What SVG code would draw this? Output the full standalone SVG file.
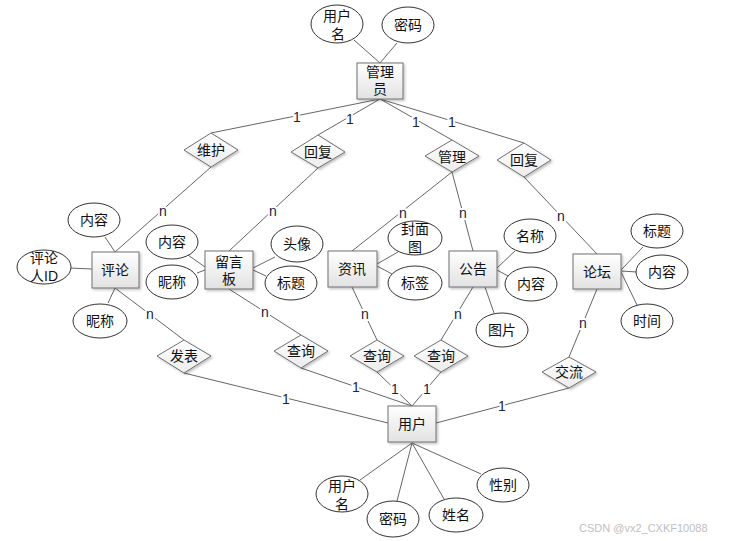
<svg xmlns="http://www.w3.org/2000/svg" width="731" height="541" viewBox="0 0 731 541">
<defs>
<linearGradient id="eg" x1="0" y1="0" x2="0" y2="1"><stop offset="0" stop-color="#ffffff"/><stop offset="1" stop-color="#e2e2e2"/></linearGradient>
<linearGradient id="dg" x1="0" y1="0" x2="0" y2="1"><stop offset="0" stop-color="#ffffff"/><stop offset="1" stop-color="#ececec"/></linearGradient>
<filter id="sh" x="-20%" y="-20%" width="140%" height="140%"><feDropShadow dx="1.5" dy="1.5" stdDeviation="1" flood-color="#000" flood-opacity="0.25"/></filter>
</defs>
<style>
text{font-family:"Liberation Sans","Noto Sans CJK SC",sans-serif;font-size:14px;fill:#111;text-anchor:middle;dominant-baseline:central}
.ent{fill:url(#eg);stroke:#707070;stroke-width:1;filter:url(#sh)}
.rel{fill:url(#dg);stroke:#707070;stroke-width:1;filter:url(#sh)}
.att{fill:#fff;stroke:#333;stroke-width:1}
.ln{stroke:#666;stroke-width:1;fill:none}
.lb{font-size:14px;fill:#1a2440;stroke:#fff;stroke-width:4;paint-order:stroke;stroke-linejoin:round}
.wm{font-size:11px;fill:#c0c0c0;text-anchor:start}
</style>
<rect width="731" height="541" fill="#fff"/>
<g id="connectors">
<path class="ln" d="M380,63L354,40M380,63L397,43"/>
<path class="ln" d="M380,99L211,133M380,99L318,135M380,99L452,140M380,99L524,143"/>
<path class="ln" d="M211,167L115,252M318,168L229,251M452,172L352,251M452,172L473,251M524,177L597,254"/>
<path class="ln" d="M115,288L184,340M229,289L301,335M352,287L377,340M473,287L441,340M597,289L569,357"/>
<path class="ln" d="M184,373L388,423M301,368L412,406M377,372L412,406M441,372L412,406M569,388L436,423"/>
<path class="ln" d="M115,252L105,237M70,268L92,269M115,288L108,303"/>
<path class="ln" d="M188,255L205,267M197,273L205,270M253,268L275,257M253,270L266,276"/>
<path class="ln" d="M377,264L398,252M377,266L392,274"/>
<path class="ln" d="M497,268L515,251M497,270L508,276M485,287L494,313"/>
<path class="ln" d="M621,270L643,247M621,271L637,272M621,272L637,305"/>
<path class="ln" d="M412,443L360,480M412,443L397,501M412,443L444,499M412,443L481,474"/>
</g>
<g id="labels">
<text class="lb" x="297" y="117">1</text>
<text class="lb" x="350" y="119">1</text>
<text class="lb" x="416" y="122">1</text>
<text class="lb" x="452" y="122">1</text>
<text class="lb" x="163" y="211">n</text>
<text class="lb" x="273" y="211">n</text>
<text class="lb" x="403" y="213">n</text>
<text class="lb" x="463" y="213">n</text>
<text class="lb" x="561" y="216">n</text>
<text class="lb" x="150" y="314">n</text>
<text class="lb" x="265" y="312">n</text>
<text class="lb" x="365" y="314">n</text>
<text class="lb" x="458" y="314">n</text>
<text class="lb" x="583" y="323">n</text>
<text class="lb" x="286" y="399">1</text>
<text class="lb" x="356" y="387">1</text>
<text class="lb" x="395" y="389">1</text>
<text class="lb" x="427" y="389">1</text>
<text class="lb" x="502" y="406">1</text>
</g>
<g id="admin"><rect class="ent" x="357" y="63" width="46" height="36"/><text x="380" y="72">管理</text><text x="380" y="89">员</text></g>
<g id="admin-username"><ellipse class="att" cx="337" cy="24" rx="26" ry="19"/><text x="337" y="16">用户</text><text x="338" y="34">名</text></g>
<g id="admin-password"><ellipse class="att" cx="408" cy="25" rx="26" ry="18"/><text x="408" y="25">密码</text></g>
<g id="rel-weihu"><polygon class="rel" points="184,150 211,133 238,150 211,167"/><text x="211" y="150">维护</text></g>
<g id="rel-huifu1"><polygon class="rel" points="291,152 318,135 345,152 318,168"/><text x="318" y="152">回复</text></g>
<g id="rel-guanli"><polygon class="rel" points="425,156 452,140 479,156 452,172"/><text x="452" y="157">管理</text></g>
<g id="rel-huifu2"><polygon class="rel" points="497,160 524,143 551,160 524,177"/><text x="524" y="160">回复</text></g>
<g id="comment"><rect class="ent" x="92" y="252" width="47" height="36"/><text x="115" y="270">评论</text></g>
<g id="comment-content"><ellipse class="att" cx="94" cy="220" rx="26" ry="17"/><text x="94" y="220">内容</text></g>
<g id="comment-uid"><ellipse class="att" cx="44" cy="267" rx="27" ry="17"/><text x="44" y="258">评论</text><text x="44" y="276">人ID</text></g>
<g id="comment-nick"><ellipse class="att" cx="100" cy="321" rx="27" ry="17"/><text x="100" y="321">昵称</text></g>
<g id="board"><rect class="ent" x="205" y="251" width="48" height="38"/><text x="229" y="262">留言</text><text x="229" y="279">板</text></g>
<g id="board-content"><ellipse class="att" cx="172" cy="242" rx="26" ry="17"/><text x="172" y="242">内容</text></g>
<g id="board-nick"><ellipse class="att" cx="172" cy="282" rx="26" ry="17"/><text x="172" y="282">昵称</text></g>
<g id="board-avatar"><ellipse class="att" cx="297" cy="244" rx="26" ry="18"/><text x="297" y="244">头像</text></g>
<g id="board-title"><ellipse class="att" cx="291" cy="283" rx="26" ry="17"/><text x="291" y="283">标题</text></g>
<g id="news"><rect class="ent" x="328" y="251" width="49" height="36"/><text x="352" y="269">资讯</text></g>
<g id="news-cover"><ellipse class="att" cx="415" cy="238" rx="27" ry="17"/><text x="415" y="229">封面</text><text x="415" y="247">图</text></g>
<g id="news-tag"><ellipse class="att" cx="415" cy="283" rx="27" ry="17"/><text x="415" y="283">标签</text></g>
<g id="notice"><rect class="ent" x="449" y="251" width="48" height="36"/><text x="473" y="269">公告</text></g>
<g id="notice-name"><ellipse class="att" cx="530" cy="236" rx="26" ry="17"/><text x="530" y="236">名称</text></g>
<g id="notice-content"><ellipse class="att" cx="531" cy="284" rx="26" ry="17"/><text x="531" y="284">内容</text></g>
<g id="notice-pic"><ellipse class="att" cx="502" cy="330" rx="26" ry="17"/><text x="502" y="330">图片</text></g>
<g id="forum"><rect class="ent" x="573" y="254" width="48" height="35"/><text x="597" y="272">论坛</text></g>
<g id="forum-title"><ellipse class="att" cx="657" cy="231" rx="26" ry="17"/><text x="657" y="231">标题</text></g>
<g id="forum-content"><ellipse class="att" cx="662" cy="272" rx="26" ry="17"/><text x="662" y="272">内容</text></g>
<g id="forum-time"><ellipse class="att" cx="647" cy="321" rx="26" ry="17"/><text x="647" y="321">时间</text></g>
<g id="rel-fabiao"><polygon class="rel" points="157,356 184,340 211,356 184,373"/><text x="184" y="356">发表</text></g>
<g id="rel-query1"><polygon class="rel" points="274,351 301,335 328,351 301,368"/><text x="301" y="351">查询</text></g>
<g id="rel-query2"><polygon class="rel" points="350,356 377,340 404,356 377,372"/><text x="377" y="356">查询</text></g>
<g id="rel-query3"><polygon class="rel" points="414,356 441,340 468,356 441,372"/><text x="441" y="356">查询</text></g>
<g id="rel-jiaoliu"><polygon class="rel" points="542,372 569,357 596,372 569,388"/><text x="569" y="372">交流</text></g>
<g id="user"><rect class="ent" x="388" y="406" width="48" height="36"/><text x="412" y="424">用户</text></g>
<g id="user-username"><ellipse class="att" cx="342" cy="494" rx="26" ry="18"/><text x="342" y="486">用户</text><text x="342" y="504">名</text></g>
<g id="user-password"><ellipse class="att" cx="393" cy="519" rx="26" ry="18"/><text x="393" y="519">密码</text></g>
<g id="user-name"><ellipse class="att" cx="456" cy="515" rx="27" ry="17"/><text x="456" y="515">姓名</text></g>
<g id="user-gender"><ellipse class="att" cx="503" cy="485" rx="26" ry="17"/><text x="503" y="485">性别</text></g>
<text class="wm" x="579" y="528">CSDN @vx2_CXKF10088</text>
</svg>
